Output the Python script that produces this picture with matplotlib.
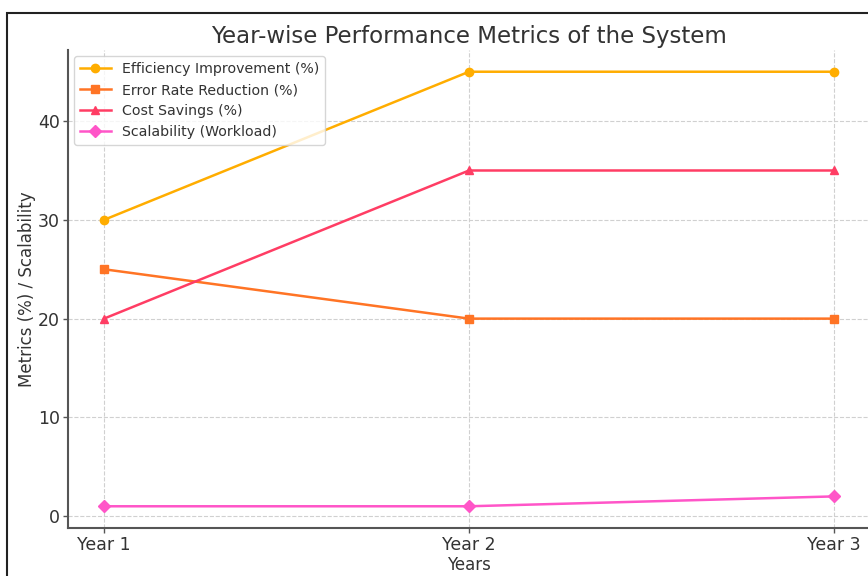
import matplotlib
matplotlib.use("Agg")
import matplotlib.pyplot as plt
from matplotlib.patches import Rectangle

years = ["Year 1", "Year 2", "Year 3"]
efficiency = [30, 45, 45]
error_reduction = [25, 20, 20]
cost_savings = [20, 35, 35]
scalability = [1, 1, 2]

labels = ["Efficiency Improvement (%)", "Error Rate Reduction (%)",
          "Cost Savings (%)", "Scalability (Workload)"]
colors = ["#FFAD00", "#FF7425", "#FF3D64", "#FF55C8"]
markers = ["o", "s", "^", "D"]

fig = plt.figure(figsize=(8.68, 5.76), dpi=100)
ax = fig.add_axes([67.5/868, 1-528/576, (870.5-67.5)/868, (528-50)/576])

x = list(range(len(years)))
for vals, lab, c, m in zip([efficiency, error_reduction, cost_savings, scalability],
                           labels, colors, markers):
    ax.plot(x, vals, marker=m, color=c, label=lab, linewidth=1.8, markersize=6)

ax.set_xticks(x)
ax.set_xticklabels(years)
ax.set_yticks([0, 10, 20, 30, 40])
ax.grid(True, linestyle="--", color="#d0d0d0", linewidth=0.8)
ax.set_axisbelow(True)
for s in ["top", "right"]:
    ax.spines[s].set_visible(False)
for s in ["left", "bottom"]:
    ax.spines[s].set_color("#555555")
    ax.spines[s].set_linewidth(1.5)
ax.tick_params(colors="#555555", labelcolor="#333333", labelsize=12.5, length=3.5, width=1, pad=2)

ax.set_title("Year-wise Performance Metrics of the System", fontsize=16.5, color="#333333", pad=5)
ax.set_xlabel("Years", fontsize=12, color="#333333", labelpad=2)
ax.set_ylabel("Metrics (%) / Scalability", fontsize=12, color="#333333", labelpad=1)

leg = ax.legend(loc="upper left", fontsize=10.2, frameon=True, borderaxespad=0.45,
                handlelength=2.2, labelspacing=0.5)
for t in leg.get_texts():
    t.set_color("#333333")
leg.get_frame().set_edgecolor("#cccccc")

fig.patches.append(Rectangle((7/868, -0.1), 1.2, 1 - 13/576 + 0.1, transform=fig.transFigure,
                             fill=False, edgecolor="#222222", linewidth=1.5))

fig.savefig("out.png", dpi=100)
